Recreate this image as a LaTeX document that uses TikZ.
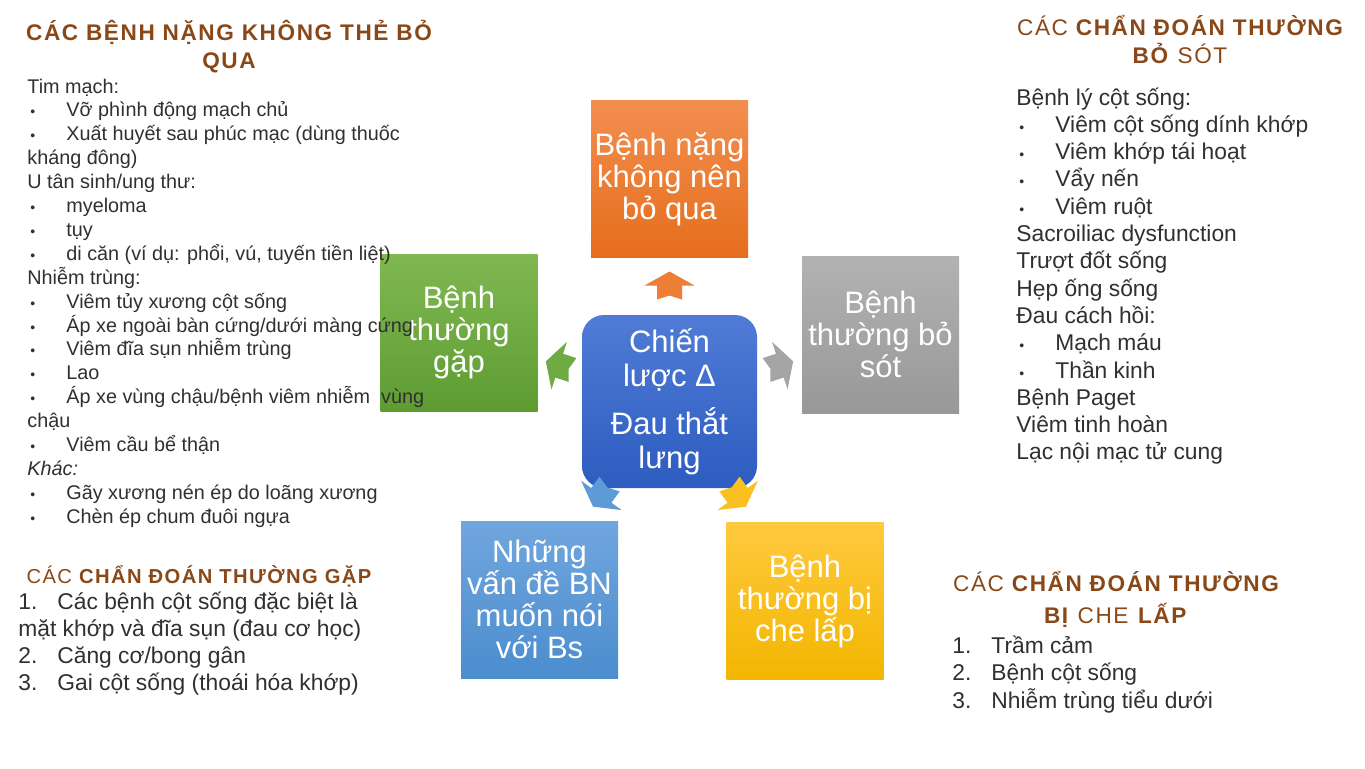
\documentclass[tikz,border=0pt]{standalone}
\usepackage{fontspec}
\setmainfont{Liberation Sans}
\newfontfamily\headfont[LetterSpace=7]{Liberation Sans}
\usetikzlibrary{positioning, calc}

\definecolor{or-top}{RGB}{243,142,80}
\definecolor{or-bot}{RGB}{229,110,28}
\definecolor{gy-top}{RGB}{178,178,178}
\definecolor{gy-bot}{RGB}{152,152,152}
\definecolor{ye-top}{RGB}{255,201,62}
\definecolor{ye-bot}{RGB}{242,182,0}
\definecolor{bl-top}{RGB}{112,166,222}
\definecolor{bl-bot}{RGB}{76,141,206}
\definecolor{gr-top}{RGB}{128,184,82}
\definecolor{gr-bot}{RGB}{94,156,50}
\definecolor{hub-top}{RGB}{80,124,214}
\definecolor{hub-bot}{RGB}{45,92,192}
\definecolor{headbrown}{RGB}{138,72,24}
\definecolor{bodytext}{RGB}{48,48,48}

\newcommand{\itm}{\makebox[19.5pt][l]{\hspace{1.5pt}{\fontsize{7}{7}\selectfont •}}}
\newcommand{\numb}[1]{\makebox[19.5pt][l]{#1}}

\tikzset{
catbox/.style={shape=rectangle, minimum width=78.5pt, minimum height=78.5pt, inner sep=0, align=center, text=white, font=\fontsize{15.5}{16}\selectfont},
hubbox/.style={catbox, rounded corners=11pt, minimum width=87.5pt, minimum height=86.5pt, top color=hub-top, bottom color=hub-bot, font=\fontsize{15.5}{17}\selectfont},
heading/.style={inner sep=0, anchor=base, text=headbrown, font=\headfont\fontsize{11.3}{13}\selectfont},
bodyline/.style={inner sep=0, anchor=base west, text=bodytext},
smallline/.style={bodyline, font=\fontsize{9.9}{12}\selectfont},
bigline/.style={bodyline, font=\fontsize{11.4}{13.7}\selectfont}}

\begin{document}
\begin{tikzpicture}[x=0.5pt, y=0.5pt]
\useasboundingbox[fill=white] (0,0) rectangle (1365,-768);
\node [hubbox] (hub) at (669.5,-401.5) {Chiến\\lược Δ\\[7pt]Đau thắt\\lưng};
% the five groups round the hub, each with its arrow
\foreach \bx/\by/\ang/\c/\txt [count=\i] in {
    669.5/179/90/or/{Bệnh nặng\\không nên\\bỏ qua},
    880.5/334.5/18/gy/{Bệnh\\thường bỏ\\sót},
    805/601/-54/ye/{Bệnh\\thường bị\\che lấp},
    539.5/599.5/-126/bl/{Những\\vấn đề BN\\muốn nói\\với Bs},
    459/332.5/162/gr/{Bệnh\\thường\\gặp}}{
      \node [catbox, top color=\c-top, bottom color=\c-bot] (cat-\i) at (\bx,-\by) {\txt};
      \coordinate (arr-\i) at ($(hub.center)+(\ang:116)$);
      \fill [\c-top!50!\c-bot, shift={(arr-\i)}, rotate=\ang]
        (-14,12.5) -- (0,12.5) -- (0,25) -- (14,0) -- (0,-25) -- (0,-12.5) -- (-14,-12.5) -- (-10,0) -- cycle;
}

% serious causes
\node [heading] (t-serious) at (229,-40) {\bfseries CÁC BỆNH NẶNG KHÔNG THẺ BỎ};
\node [heading] (t-serious2) at (229,-68) {\bfseries QUA};
\foreach \ln [count=\k] in {Tim mạch:, \itm Vỡ phình động mạch chủ, {\itm Xuất huyết sau phúc mạc (dùng thuốc}, {kháng đông)},
    U tân sinh/ung thư:, \itm myeloma, \itm tụy, {\itm di căn (ví dụ: phổi, vú, tuyến tiền liệt)},
    Nhiễm trùng:, \itm Viêm tủy xương cột sống, \itm Áp xe ngoài bàn cứng/dưới màng cứng, \itm Viêm đĩa sụn nhiễm trùng,
    \itm Lao, \itm Áp xe vùng chậu/bệnh viêm nhiễm~ vùng, chậu, \itm Viêm cầu bể thận,
    \textit{Khác:}, \itm Gãy xương nén ép do loãng xương, \itm Chèn ép chum đuôi ngựa}
  \node [smallline] (serious-\k) at (27,{-93-23.9*(\k-1)}) {\ln};

% missed
\node [heading] (t-missed) at (1180,-35) {CÁC \bfseries CHẨN ĐOÁN THƯỜNG};
\node [heading] (t-missed2) at (1180,-63) {\textbf{BỎ} SÓT};
\foreach \ln [count=\k] in {Bệnh lý cột sống:, \itm Viêm cột sống dính khớp, \itm Viêm khớp tái hoạt, \itm Vẩy nến, \itm Viêm ruột,
    Sacroiliac dysfunction, Trượt đốt sống, Hẹp ống sống, Đau cách hồi:, \itm Mạch máu, \itm Thần kinh,
    Bệnh Paget, Viêm tinh hoàn, Lạc nội mạc tử cung}
  \node [bigline] (missed-\k) at (1016,{-105-27.3*(\k-1)}) {\ln};

% common
\node [heading, font=\headfont\fontsize{10.1}{12}\selectfont] (t-common) at (199,-583) {CÁC \bfseries CHẨN ĐOÁN THƯỜNG GẶP};
\foreach \ln [count=\k] in {\numb{1.}Các bệnh cột sống đặc biệt là, {mặt khớp và đĩa sụn (đau cơ học)},
    \numb{2.}Căng cơ/bong gân, {\numb{3.}Gai cột sống (thoái hóa khớp)}}
  \node [bigline] (common-\k) at (18,{-609-27.3*(\k-1)}) {\ln};

% masked
\node [heading] (t-masked) at (1116,-591) {CÁC \bfseries CHẨN ĐOÁN THƯỜNG};
\node [heading] (t-masked2) at (1116,-623) {\textbf{BỊ} CHE \textbf{LẤP}};
\foreach \ln [count=\k] in {\numb{1.}Trầm cảm, \numb{2.}Bệnh cột sống, \numb{3.}Nhiễm trùng tiểu dưới}
  \node [bigline] (masked-\k) at (952,{-653-27.5*(\k-1)}) {\ln};
\end{tikzpicture}
\end{document}
